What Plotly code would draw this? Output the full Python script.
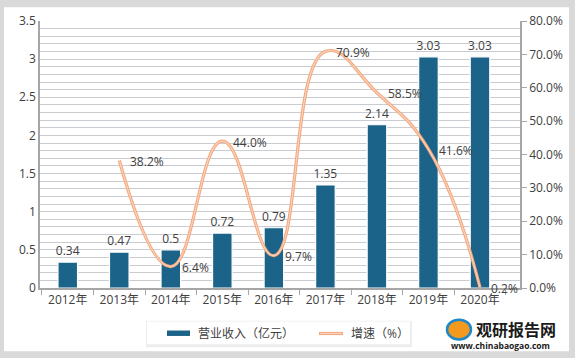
import plotly.graph_objects as go

years = ["2012年", "2013年", "2014年", "2015年", "2016年", "2017年", "2018年", "2019年", "2020年"]
revenue = [0.34, 0.47, 0.50, 0.72, 0.79, 1.35, 2.14, 3.03, 3.03]
revenue_labels = ["0.34", "0.47", "0.5", "0.72", "0.79", "1.35", "2.14", "3.03", "3.03"]
growth_years = years[1:]
growth = [0.382, 0.064, 0.440, 0.097, 0.709, 0.585, 0.416, 0.002]
growth_labels = ["38.2%", "6.4%", "44.0%", "9.7%", "70.9%", "58.5%", "41.6%", "0.2%"]

FONT = "Open Sans, Noto Sans CJK SC, sans-serif"
TXT = "#404040"
BAR = "#1B6388"
LINE = "#F3A87E"

fig = go.Figure()
fig.add_trace(go.Bar(
    x=years, y=revenue, name="营业收入（亿元）", showlegend=False,
    marker=dict(color=BAR, line=dict(color="white", width=1.2)),
    width=0.38,
    text=revenue_labels, textposition="outside", cliponaxis=False, constraintext="none",
    textfont=dict(size=12, color=TXT, family=FONT),
))
fig.add_trace(go.Scatter(
    x=growth_years, y=growth, name="增速（%）", yaxis="y2", showlegend=False,
    mode="lines", line=dict(color=LINE, width=3.2, shape="spline", smoothing=1.3),
    hoverinfo="skip",
))
fig.add_trace(go.Scatter(
    x=growth_years, y=growth, yaxis="y2", showlegend=False,
    mode="lines", line=dict(color="#FAD3BC", width=1.1, shape="spline", smoothing=1.3),
    hoverinfo="skip",
))
# hidden axis used only for the dense horizontal gridlines
fig.add_trace(go.Scatter(x=[years[0]], y=[0], yaxis="y3", mode="markers",
                         marker=dict(opacity=0), showlegend=False, hoverinfo="skip"))

for gx, gy, gt in zip(growth_years, growth, growth_labels):
    fig.add_annotation(x=gx, y=gy, xref="x", yref="y2", text=gt, showarrow=False,
                       xanchor="left", yanchor="middle", xshift=9, yshift=-1,
                       font=dict(size=12, color=TXT, family=FONT))

W, H = 575, 358
L, R, T, B = 40, 55, 18, 70
pw, ph = W - L - R, H - T - B

def px(x):
    return (x - L) / pw

def py(y):
    return (H - B - y) / ph

shapes = [
    dict(type="rect", xref="paper", yref="paper",
         x0=px(4), x1=px(569), y0=py(352), y1=py(4),
         fillcolor="white", line=dict(width=0), layer="below"),
    # legend shadow + box
    dict(type="rect", xref="paper", yref="paper",
         x0=px(146), x1=px(412), y0=py(348), y1=py(321),
         fillcolor="#EDEDED", line=dict(width=0), layer="below"),
    dict(type="rect", xref="paper", yref="paper",
         x0=px(147), x1=px(410), y0=py(345), y1=py(322),
         fillcolor="white", line=dict(width=0), layer="below"),
    dict(type="rect", xref="paper", yref="paper",
         x0=px(167), x1=px(190), y0=py(336.5), y1=py(331),
         fillcolor=BAR, line=dict(width=0)),
    dict(type="line", xref="paper", yref="paper",
         x0=px(319), x1=px(343), y0=py(334), y1=py(334),
         line=dict(color=LINE, width=3.2)),
    dict(type="line", xref="paper", yref="paper",
         x0=px(320), x1=px(342), y0=py(334), y1=py(334),
         line=dict(color="#FAD3BC", width=1.1)),
    # logo
    dict(type="circle", xref="paper", yref="paper",
         x0=px(447), x1=px(471), y0=py(340), y1=py(320),
         fillcolor="#F39A1E", line=dict(color="#1E88C8", width=2.5)),
]

fig.update_layout(
    width=W, height=H,
    margin=dict(l=L, r=R, t=T, b=B),
    paper_bgcolor="#D9D9D9",
    plot_bgcolor="#EAF1F8",
    font=dict(family=FONT, size=12, color=TXT),
    showlegend=False,
    shapes=shapes,
    xaxis=dict(
        type="category", showline=True, linecolor="#A6A6A6", linewidth=1.5,
        ticks="outside", tickson="boundaries", ticklen=5, tickcolor="#A6A6A6",
        tickfont=dict(size=12, color=TXT), showgrid=False, zeroline=False,
    ),
    yaxis=dict(
        range=[0, 3.5], dtick=0.5, showline=True, linecolor="#A6A6A6", linewidth=1.5,
        showgrid=False, zeroline=False,
        tickfont=dict(size=12, color=TXT),
    ),
    yaxis3=dict(
        range=[0, 3.5], dtick=0.1, overlaying="y", side="left", showticklabels=False,
        showgrid=True, gridcolor="#C9CDD2", gridwidth=1, zeroline=False, showline=False,
    ),
    yaxis2=dict(
        range=[0, 0.8], dtick=0.1, tickformat=".1%", overlaying="y", side="right",
        showline=True, linecolor="#A6A6A6", linewidth=1.5, ticks="outside", ticklen=5,
        tickcolor="#A6A6A6", showgrid=False, zeroline=False,
        tickfont=dict(size=12, color=TXT),
    ),
)

for x, text in [(196, "营业收入（亿元）"), (349, "增速（%）")]:
    fig.add_annotation(xref="paper", yref="paper", x=px(x), y=py(334), xanchor="left",
                       yanchor="middle", text=text, showarrow=False,
                       font=dict(size=12, color=TXT, family=FONT))

fig.add_annotation(xref="paper", yref="paper", x=px(474), y=py(329), xanchor="left", yanchor="middle",
                   text="<b>观研报告网</b>", showarrow=False,
                   font=dict(size=16, color="#1a1a1a", family="Noto Sans CJK SC"))
fig.add_annotation(xref="paper", yref="paper", x=px(500), y=py(346), xanchor="center", yanchor="middle",
                   text="<b>www.chinabaogao.com</b>", showarrow=False,
                   font=dict(size=8.5, color="#1a1a1a", family=FONT))

fig.write_html("out.html", config={"displayModeBar": False},
               post_script="document.body.style.margin='0';document.body.style.overflow='hidden';")
